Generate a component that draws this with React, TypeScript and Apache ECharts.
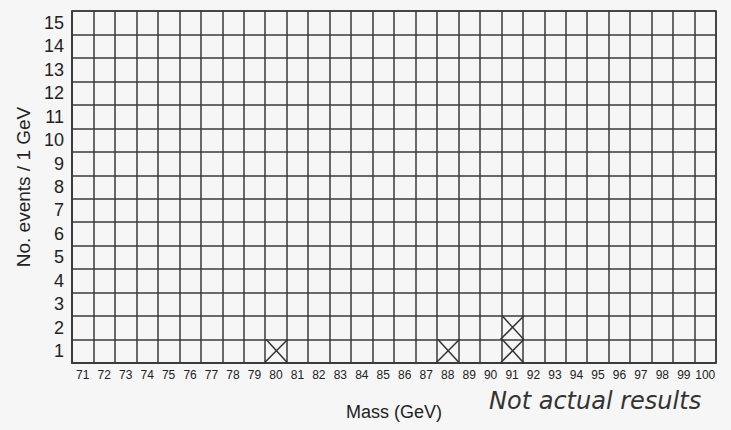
import React, { useEffect, useRef } from "react";
import * as echarts from "echarts";

const massCategories = Array.from({ length: 30 }, (_, i) => String(71 + i));
const eventCategories = Array.from({ length: 15 }, (_, i) => String(1 + i));
const crosses: [string, string][] = [
  ["80", "1"],
  ["88", "1"],
  ["91", "1"],
  ["91", "2"],
];
const xName = "Mass (GeV)";
const yName = "No. events / 1 GeV";
const note = "Not actual results";

export default function App() {
  const ref = useRef<HTMLDivElement>(null);
  useEffect(() => {
    document.body.style.margin = "0";
    const chart = echarts.init(ref.current!, null, { renderer: "svg" });
    const lineColor = "#3a3a3a";
    chart.setOption({
      animation: false,
      backgroundColor: "#f6f6f6",
      grid: {
        left: 72,
        right: 15,
        top: 11,
        bottom: 67,
        show: true,
        borderColor: lineColor,
        borderWidth: 1.5,
      },
      xAxis: {
        type: "category",
        data: massCategories,
        boundaryGap: true,
        name: xName,
        nameLocation: "middle",
        nameGap: 40,
        nameTextStyle: { fontSize: 18, color: "#222", fontFamily: "Liberation Sans" },
        axisLine: { show: true, lineStyle: { color: lineColor, width: 1.5 } },
        axisTick: { show: false },
        axisLabel: {
          interval: 0,
          margin: 6,
          fontSize: 12,
          color: "#222",
          fontFamily: "Liberation Sans",
        },
        splitLine: { show: true, interval: 0, lineStyle: { color: lineColor, width: 1.5 } },
      },
      yAxis: {
        type: "category",
        data: eventCategories,
        boundaryGap: true,
        name: yName,
        nameLocation: "middle",
        nameGap: 35,
        nameTextStyle: { fontSize: 19, color: "#222", fontFamily: "Liberation Sans" },
        axisLine: { show: true, lineStyle: { color: lineColor, width: 1.5 } },
        axisTick: { show: false },
        axisLabel: {
          interval: 0,
          margin: 8,
          fontSize: 18,
          color: "#222",
          fontFamily: "Liberation Sans",
        },
        splitLine: { show: true, interval: 0, lineStyle: { color: lineColor, width: 1.5 } },
      },
      series: [
        {
          type: "custom",
          data: crosses,
          renderItem: (params: any, api: any) => {
            const c = api.coord([api.value(0), api.value(1)]);
            const s = api.size([1, 1]);
            const hw = s[0] / 2 + 1;
            const hh = s[1] / 2;
            const style = { stroke: "#333", lineWidth: 1.5 };
            return {
              type: "group",
              children: [
                {
                  type: "line",
                  shape: { x1: c[0] - hw, y1: c[1] + hh, x2: c[0] + hw, y2: c[1] - hh },
                  style,
                },
                {
                  type: "line",
                  shape: { x1: c[0] - hw + 2, y1: c[1] - hh, x2: c[0] + hw, y2: c[1] + hh },
                  style,
                },
              ],
            };
          },
        },
      ],
      graphic: [
        {
          type: "text",
          left: 489,
          top: 389,
          style: {
            text: note,
            fontSize: 24,
            fontStyle: "italic",
            fontWeight: 200,
            fontFamily: "DejaVu Sans",
            fill: "#333",
          },
        },
      ],
    });
    return () => chart.dispose();
  }, []);
  return <div ref={ref} style={{ width: 731, height: 430 }} />;
}
